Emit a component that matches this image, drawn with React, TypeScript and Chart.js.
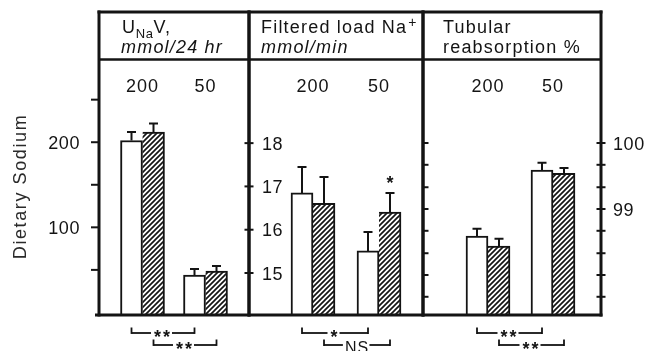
import React, { useEffect, useRef } from "react";
import { Chart, registerables } from "chart.js";

Chart.register(...registerables);

// ---------------- data ----------------
const categories = ["200", "50"]; // dietary sodium groups
const groupPositions = [1, 2];

// Panel 1: UNaV, mmol/24 hr
const unavControl = [202, 44];
const unavControlErr = [10, 7];
const unavTreated = [212, 48.5];
const unavTreatedErr = [10, 6];

// Panel 2: Filtered load Na+, mmol/min
const loadControl = [16.85, 15.51];
const loadControlErr = [0.6, 0.44];
const loadTreated = [16.61, 16.41];
const loadTreatedErr = [0.61, 0.44];
const loadTreatedMarks = ["", "*"];

// Panel 3: Tubular reabsorption %
const reabsControl = [98.59, 99.59];
const reabsControlErr = [0.11, 0.11];
const reabsTreated = [98.44, 99.54];
const reabsTreatedErr = [0.11, 0.08];

// axis ticks
const unavTicks = [50, 100, 150, 200, 250];
const unavTickLabels = [100, 200];
const loadTicks = [15, 16, 17, 18];
const loadTickLabels = [15, 16, 17, 18];
const reabsTicks = [97.67, 98, 98.33, 98.67, 99, 99.33, 99.67, 100];
const reabsTickLabels = [99, 100];

// significance between 200 and 50 groups
const controlComparison = ["**", "*", "**"];
const treatedComparison = ["**", "NS", "**"];

const axisTitle = "Dietary Sodium";

// ---------------- layout / style ----------------
const W = 646;
const H = 351;
const TOP = 60;
const BOTTOM = 315;
const INK = "#141414";
const FONT = '"Liberation Sans", Arial, Helvetica, sans-serif';

type PanelDef = {
  left: number;
  right: number;
  firstCenter: number;
  step: number;
  yMin: number;
  yMax: number;
  control: number[];
  controlErr: number[];
  treated: number[];
  treatedErr: number[];
  marks: string[];
};

const PANELS: PanelDef[] = [
  { left: 99, right: 249, firstCenter: 142.5, step: 63, yMin: -3, yMax: 296.6,
    control: unavControl, controlErr: unavControlErr, treated: unavTreated, treatedErr: unavTreatedErr, marks: ["", ""] },
  { left: 249, right: 423, firstCenter: 313, step: 66, yMin: 14.03, yMax: 19.92,
    control: loadControl, controlErr: loadControlErr, treated: loadTreated, treatedErr: loadTreatedErr, marks: loadTreatedMarks },
  { left: 423, right: 601, firstCenter: 488, step: 65, yMin: 97.394, yMax: 101.258,
    control: reabsControl, controlErr: reabsControlErr, treated: reabsTreated, treatedErr: reabsTreatedErr, marks: ["", ""] },
];

function makeHatch(): CanvasPattern | string {
  const c = document.createElement("canvas");
  c.width = 5;
  c.height = 5;
  const g = c.getContext("2d");
  if (!g) return "#888";
  g.fillStyle = "#fff";
  g.fillRect(0, 0, 5, 5);
  g.strokeStyle = INK;
  g.lineWidth = 1.7;
  g.beginPath();
  g.moveTo(0, 5);
  g.lineTo(5, 0);
  g.moveTo(-1, 1);
  g.lineTo(1, -1);
  g.moveTo(4, 6);
  g.lineTo(6, 4);
  g.stroke();
  return g.createPattern(c, "repeat") || "#888";
}

function helpers(ctx: CanvasRenderingContext2D) {
  const seg = (x1: number, y1: number, x2: number, y2: number, lw: number) => {
    ctx.lineWidth = lw;
    ctx.beginPath();
    ctx.moveTo(x1, y1);
    ctx.lineTo(x2, y2);
    ctx.stroke();
  };
  const tc = (s: string, x: number, yc: number, align: CanvasTextAlign) => {
    ctx.textAlign = align;
    const m = ctx.measureText(s);
    ctx.fillText(s, x, yc + (m.actualBoundingBoxAscent - m.actualBoundingBoxDescent) / 2);
    return m;
  };
  const setFont = (f: string, ls: number) => {
    ctx.font = f;
    (ctx as any).letterSpacing = `${ls}px`;
  };
  return { seg, tc, setFont };
}

function makePlugin(pi: number) {
  return {
    id: "deco" + pi,
    afterDatasetsDraw(chart: any) {
      const ctx: CanvasRenderingContext2D = chart.ctx;
      const ys = chart.scales.y;
      ctx.save();
      ctx.strokeStyle = INK;
      ctx.fillStyle = INK;
      ctx.lineWidth = 2;
      chart.data.datasets.forEach((ds: any, di: number) => {
        const meta = chart.getDatasetMeta(di);
        meta.data.forEach((bar: any, i: number) => {
          const yTop = ys.getPixelForValue(ds.data[i].y + ds.errors[i]);
          ctx.beginPath();
          ctx.moveTo(bar.x, bar.y);
          ctx.lineTo(bar.x, yTop);
          ctx.moveTo(bar.x - 4.5, yTop);
          ctx.lineTo(bar.x + 4.5, yTop);
          ctx.stroke();
          const mark = ds.marks ? ds.marks[i] : "";
          if (mark) {
            ctx.font = `bold 18px ${FONT}`;
            ctx.textAlign = "center";
            ctx.textBaseline = "alphabetic";
            const m = ctx.measureText(mark);
            const yc = yTop - 13;
            ctx.fillText(mark, bar.x, yc + (m.actualBoundingBoxAscent - m.actualBoundingBoxDescent) / 2);
          }
        });
      });
      ctx.restore();
    },
    afterDraw(chart: any) {
      const ctx: CanvasRenderingContext2D = chart.ctx;
      const xs = chart.scales.x;
      const ys = chart.scales.y;
      const p = PANELS[pi];
      ctx.save();
      ctx.strokeStyle = INK;
      ctx.fillStyle = INK;
      ctx.lineCap = "butt";
      ctx.textBaseline = "alphabetic";
      const { seg, tc, setFont } = helpers(ctx);

      // frame of this panel
      seg(p.left - (pi === 0 ? 1.5 : 0), 12, p.right + (pi === 2 ? 1.5 : 0), 12, 3);
      seg(p.left, 59.5, p.right, 59.5, 2.5);
      seg(p.left - (pi === 0 ? 4 : 0), BOTTOM, p.right + (pi === 2 ? 1.5 : 0), BOTTOM, 3);
      seg(p.left, 10.5, p.left, 316.5, 3);
      seg(p.right, 10.5, p.right, 316.5, 3);

      // axis ticks and labels
      setFont(`18px ${FONT}`, 0.6);
      if (pi === 0) {
        unavTicks.forEach((v) => {
          const y = ys.getPixelForValue(v);
          seg(91, y, p.left, y, 2);
        });
        unavTickLabels.forEach((v) => tc(String(v), 80, ys.getPixelForValue(v), "right"));
      } else if (pi === 1) {
        loadTicks.forEach((v) => {
          const y = ys.getPixelForValue(v);
          seg(p.left - 4.5, y, p.left + 4.5, y, 2);
        });
        loadTickLabels.forEach((v) => tc(String(v), 262, ys.getPixelForValue(v), "left"));
      } else {
        reabsTicks.forEach((v) => {
          const y = ys.getPixelForValue(v);
          seg(p.left, y, p.left + 5.5, y, 2);
          seg(p.right - 4.5, y, p.right + 4.5, y, 2);
        });
        reabsTickLabels.forEach((v) => tc(String(v), 613, ys.getPixelForValue(v), "left"));
      }

      // category labels
      setFont(`18px ${FONT}`, 1);
      categories.forEach((c, i) => tc(c, xs.getPixelForValue(groupPositions[i]), 85.5, "center"));

      // header text
      ctx.textAlign = "left";
      if (pi === 0) {
        setFont(`18px ${FONT}`, 1.2);
        ctx.fillText("U", 122, 33);
        let x = 122 + ctx.measureText("U").width - 0.5;
        setFont(`13px ${FONT}`, 0.6);
        ctx.fillText("Na", x, 37.5);
        x += ctx.measureText("Na").width;
        setFont(`18px ${FONT}`, 1.2);
        ctx.fillText("V,", x, 33);
        setFont(`italic 18px ${FONT}`, 1.2);
        ctx.fillText("mmol/24 hr", 121, 52.5);
      } else if (pi === 1) {
        setFont(`18px ${FONT}`, 1.2);
        ctx.fillText("Filtered load Na", 261, 33);
        const x = 261 + ctx.measureText("Filtered load Na").width + 1;
        setFont(`14px ${FONT}`, 0);
        ctx.fillText("+", x, 27);
        setFont(`italic 18px ${FONT}`, 1.2);
        ctx.fillText("mmol/min", 261, 52.5);
      } else {
        setFont(`18px ${FONT}`, 1.2);
        ctx.fillText("Tubular", 443, 33);
        ctx.fillText("reabsorption %", 443, 52.5);
      }

      // comparison brackets (200 vs 50)
      const bracket = (xa: number, xb: number, y: number, label: string) => {
        const isStar = /^\*+$/.test(label);
        if (isStar) setFont(`bold 18px ${FONT}`, 2);
        else setFont(`16px ${FONT}`, 1);
        const mid = (xa + xb) / 2;
        ctx.textAlign = "center";
        const m = ctx.measureText(label);
        seg(xa, y - 5.5, xa, y + 0.9, 1.8);
        seg(xb, y - 5.5, xb, y + 0.9, 1.8);
        seg(xa, y, mid - m.actualBoundingBoxLeft - 3, y, 1.8);
        seg(mid + m.actualBoundingBoxRight + 2, y, xb, y, 1.8);
        tc(label, mid, isStar ? y : y + 2, "center");
      };
      const m0 = chart.getDatasetMeta(0);
      const m1 = chart.getDatasetMeta(1);
      bracket(m0.data[0].x, m0.data[1].x, 333, controlComparison[pi]);
      bracket(m1.data[0].x, m1.data[1].x, 345, treatedComparison[pi]);

      // vertical title
      if (pi === 0) {
        ctx.save();
        ctx.fillStyle = "#2a2a2a";
        ctx.translate(26, 186.5);
        ctx.rotate(-Math.PI / 2);
        setFont(`18px ${FONT}`, 1.6);
        ctx.textAlign = "center";
        ctx.fillText(axisTitle, 0, 0);
        ctx.restore();
      }
      ctx.restore();
    },
  };
}

export default function App() {
  const refs = [useRef<HTMLCanvasElement>(null), useRef<HTMLCanvasElement>(null), useRef<HTMLCanvasElement>(null)];

  useEffect(() => {
    const hatch = makeHatch();
    const charts: Chart[] = [];
    PANELS.forEach((p, pi) => {
      const canvas = refs[pi].current;
      if (!canvas) return;
      const areaW = p.right - p.left;
      const xMin = groupPositions[0] - (p.firstCenter - p.left) / p.step;
      const chart = new Chart(canvas, {
        type: "bar",
        data: {
          datasets: [
            {
              label: "control",
              data: groupPositions.map((gx, i) => ({ x: gx, y: p.control[i] })),
              errors: p.controlErr,
              marks: ["", ""],
              base: p.yMin,
              barThickness: 22,
              backgroundColor: "#ffffff",
              borderColor: INK,
              borderWidth: { top: 2, left: 2, right: 2, bottom: 0 },
              borderSkipped: "start",
            },
            {
              label: "treated",
              data: groupPositions.map((gx, i) => ({ x: gx, y: p.treated[i] })),
              errors: p.treatedErr,
              marks: p.marks,
              base: p.yMin,
              barThickness: 22,
              backgroundColor: hatch,
              borderColor: INK,
              borderWidth: { top: 2, left: 0, right: 2, bottom: 0 },
              borderSkipped: "start",
            },
          ],
        },
        options: {
          responsive: false,
          animation: false,
          devicePixelRatio: 1,
          events: [],
          layout: {
            padding: { left: p.left, right: W - p.right, top: TOP, bottom: H - BOTTOM },
          },
          plugins: { legend: { display: false }, tooltip: { enabled: false } },
          scales: {
            x: {
              type: "linear",
              display: false,
              offset: false,
              min: xMin,
              max: xMin + areaW / p.step,
            },
            y: {
              type: "linear",
              display: false,
              beginAtZero: false,
              min: p.yMin,
              max: p.yMax,
            },
          },
        },
        plugins: [makePlugin(pi)],
      } as any);
      charts.push(chart);
    });
    return () => charts.forEach((c) => c.destroy());
  }, []);

  return (
    <div style={{ position: "fixed", left: 0, top: 0, width: W, height: H, background: "#fff" }}>
      {refs.map((r, i) => (
        <canvas
          key={i}
          ref={r}
          width={W}
          height={H}
          style={{ position: "absolute", left: 0, top: 0, width: W, height: H, display: "block" }}
        />
      ))}
    </div>
  );
}
